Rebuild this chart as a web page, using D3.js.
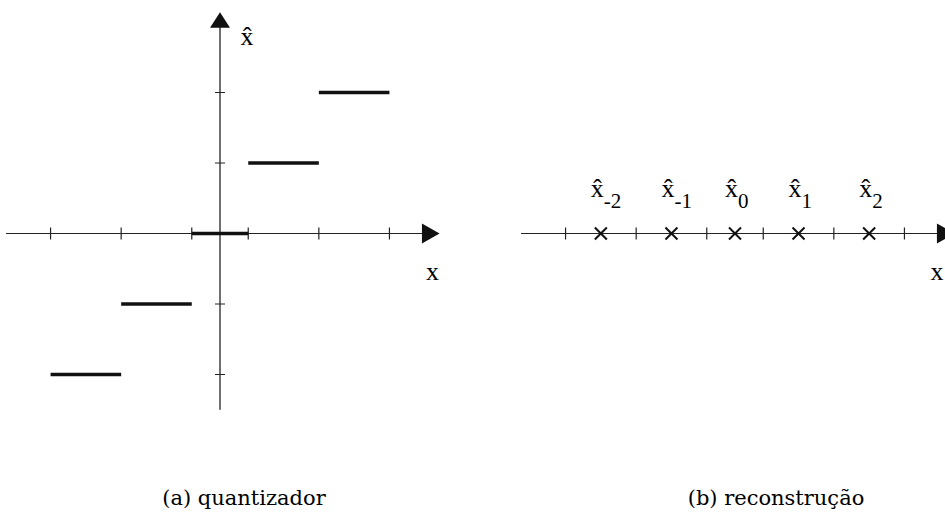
<!DOCTYPE html>
<html>
<head>
<meta charset="utf-8">
<script src="https://cdn.jsdelivr.net/npm/d3@7"></script>
<style>
body{margin:0;background:#fff;}
svg{display:block;background:#fff;}
</style>
</head>
<body>
<svg width="945" height="515"></svg>
<script>
// decision thresholds on x and the output level of each interval
var thresholds = [-2.4, -1.4, -0.4, 0.4, 1.4, 2.4];
var levels = [-2, -1, 0, 1, 2];
var yTicks = [-2, -1, 1, 2];
// reconstruction points of panel (b)
var recon = [-1.9, -0.9, 0, 0.9, 1.9];
var reconSub = ['-2', '-1', '0', '1', '2'];
var captions = ['(a) quantizador', '(b) reconstrução'];

var svg = d3.select('svg');
var x0 = 220, y0 = 233.5, ux = 70.6, uy = 70.5;

var xa = d3.scaleLinear().domain([-3, 3]).range([x0 - 3*ux, x0 + 3*ux]);
var xb = d3.scaleLinear().domain([-3, 3]).range([x0 + 515 - 3*ux, x0 + 515 + 3*ux]);
var y = d3.scaleLinear().domain([-3, 3]).range([y0 + 3*uy, y0 - 3*uy]);

var ink = '#222';

function xAxis(x, labelX){
    var g = svg.append('g');
    g.append('line')
        .attr('x1', x(-3.03)).attr('x2', x(2.9))
        .attr('y1', y(0)).attr('y2', y(0))
        .attr('stroke', ink).attr('stroke-width', 1.2);
    g.append('path')
        .attr('d', 'M' + x(3.11) + ',' + y(0) + 'L' + x(2.86) + ',' + (y(0) - 10) + 'L' + x(2.86) + ',' + (y(0) + 10) + 'Z')
        .attr('fill', '#111');
    g.selectAll('.xtick')
        .data(thresholds)
        .join('line')
        .attr('class', 'xtick')
        .attr('x1', d => x(d)).attr('x2', d => x(d))
        .attr('y1', y(0) - 6).attr('y2', y(0) + 6)
        .attr('stroke', ink).attr('stroke-width', 1.2);
    g.append('text')
        .attr('x', labelX).attr('y', 280)
        .attr('text-anchor', 'middle')
        .style('font-family', 'Liberation Serif')
        .style('font-size', '26px')
        .text('x');
}

// (a) quantizer
xAxis(xa, xa(3.01));

svg.append('line')
    .attr('x1', xa(0)).attr('x2', xa(0))
    .attr('y1', y(-2.5)).attr('y2', y(2.93))
    .attr('stroke', ink).attr('stroke-width', 1.3);
svg.append('path')
    .attr('d', 'M' + xa(0) + ',' + y(3.14) + 'L' + (xa(0) - 10) + ',' + y(2.92) + 'L' + (xa(0) + 10) + ',' + y(2.92) + 'Z')
    .attr('fill', '#111');
svg.selectAll('.ytick')
    .data(yTicks)
    .join('line')
    .attr('class', 'ytick')
    .attr('x1', xa(0) - 5).attr('x2', xa(0) + 5)
    .attr('y1', d => y(d)).attr('y2', d => y(d))
    .attr('stroke', ink).attr('stroke-width', 1);
svg.append('text')
    .attr('x', 247).attr('y', 45)
    .attr('text-anchor', 'middle')
    .style('font-family', 'Liberation Serif')
    .style('font-size', '26px')
    .text('x\u0302');

svg.selectAll('.step')
    .data(levels)
    .join('line')
    .attr('class', 'step')
    .attr('x1', (d, i) => xa(thresholds[i]))
    .attr('x2', (d, i) => xa(thresholds[i + 1]))
    .attr('y1', d => y(d)).attr('y2', d => y(d))
    .attr('stroke', '#111')
    .attr('stroke-width', 3.5);

// (b) reconstruction
xAxis(xb, 937);

svg.selectAll('.cross')
    .data(recon)
    .join('path')
    .attr('class', 'cross')
    .attr('d', d => {
        var cx = xb(d), cy = y(0), s = 6;
        return 'M' + (cx - s) + ',' + (cy - s) + 'L' + (cx + s) + ',' + (cy + s) +
               'M' + (cx - s) + ',' + (cy + s) + 'L' + (cx + s) + ',' + (cy - s);
    })
    .attr('stroke', '#111')
    .attr('stroke-width', 2)
    .attr('fill', 'none');

var lab = svg.selectAll('.rlab')
    .data(recon)
    .join('text')
    .attr('class', 'rlab')
    .attr('x', d => xb(d) - 10)
    .attr('y', 197)
    .style('font-family', 'Liberation Serif')
    .style('font-size', '26px');
lab.append('tspan').text('x\u0302');
lab.append('tspan')
    .attr('dy', 11)
    .style('font-size', '21px')
    .text((d, i) => reconSub[i]);

svg.selectAll('.caption')
    .data(captions)
    .join('text')
    .attr('class', 'caption')
    .attr('x', (d, i) => i == 0 ? 244 : 776)
    .attr('y', 505)
    .attr('text-anchor', 'middle')
    .style('font-family', 'DejaVu Serif')
    .style('font-size', '21px')
    .text(d => d);
</script>
</body>
</html>
